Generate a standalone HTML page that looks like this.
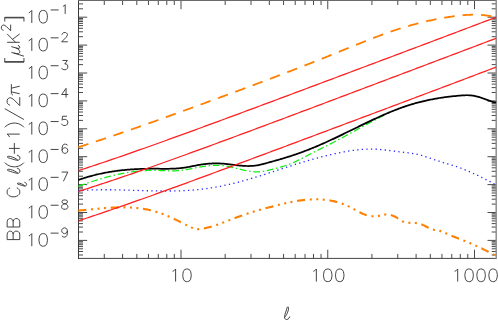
<!DOCTYPE html>
<html><head><meta charset="utf-8"><title>BB power spectrum</title>
<style>
html,body{margin:0;padding:0;background:#fff;}
body{width:498px;height:320px;overflow:hidden;font-family:"Liberation Sans",sans-serif;}
svg{display:block;}
</style></head><body>
<svg width="498" height="320" viewBox="0 0 498 320">
<rect x="0" y="0" width="498" height="320" fill="#ffffff"/>
<path d="M104.27 258.40 v-4.50 M104.27 0.50 v4.50 M122.60 258.40 v-4.50 M122.60 0.50 v4.50 M136.82 258.40 v-4.50 M136.82 0.50 v4.50 M148.44 258.40 v-4.50 M148.44 0.50 v4.50 M158.27 258.40 v-4.50 M158.27 0.50 v4.50 M166.78 258.40 v-4.50 M166.78 0.50 v4.50 M174.29 258.40 v-4.50 M174.29 0.50 v4.50 M181.00 258.40 v-8.70 M181.00 0.50 v8.70 M225.18 258.40 v-4.50 M225.18 0.50 v4.50 M251.02 258.40 v-4.50 M251.02 0.50 v4.50 M269.35 258.40 v-4.50 M269.35 0.50 v4.50 M283.57 258.40 v-4.50 M283.57 0.50 v4.50 M295.19 258.40 v-4.50 M295.19 0.50 v4.50 M305.02 258.40 v-4.50 M305.02 0.50 v4.50 M313.53 258.40 v-4.50 M313.53 0.50 v4.50 M321.04 258.40 v-4.50 M321.04 0.50 v4.50 M327.75 258.40 v-8.70 M327.75 0.50 v8.70 M371.93 258.40 v-4.50 M371.93 0.50 v4.50 M397.77 258.40 v-4.50 M397.77 0.50 v4.50 M416.10 258.40 v-4.50 M416.10 0.50 v4.50 M430.32 258.40 v-4.50 M430.32 0.50 v4.50 M441.94 258.40 v-4.50 M441.94 0.50 v4.50 M451.77 258.40 v-4.50 M451.77 0.50 v4.50 M460.28 258.40 v-4.50 M460.28 0.50 v4.50 M467.79 258.40 v-4.50 M467.79 0.50 v4.50 M474.50 258.40 v-8.70 M474.50 0.50 v8.70 M78.50 254.99 h4.50 M496.20 254.99 h-4.50 M78.50 251.50 h4.50 M496.20 251.50 h-4.50 M78.50 248.80 h4.50 M496.20 248.80 h-4.50 M78.50 246.59 h4.50 M496.20 246.59 h-4.50 M78.50 244.72 h4.50 M496.20 244.72 h-4.50 M78.50 243.10 h4.50 M496.20 243.10 h-4.50 M78.50 241.68 h4.50 M496.20 241.68 h-4.50 M78.50 240.40 h8.70 M496.20 240.40 h-8.70 M78.50 232.00 h4.50 M496.20 232.00 h-4.50 M78.50 227.09 h4.50 M496.20 227.09 h-4.50 M78.50 223.60 h4.50 M496.20 223.60 h-4.50 M78.50 220.90 h4.50 M496.20 220.90 h-4.50 M78.50 218.69 h4.50 M496.20 218.69 h-4.50 M78.50 216.82 h4.50 M496.20 216.82 h-4.50 M78.50 215.20 h4.50 M496.20 215.20 h-4.50 M78.50 213.78 h4.50 M496.20 213.78 h-4.50 M78.50 212.50 h8.70 M496.20 212.50 h-8.70 M78.50 204.10 h4.50 M496.20 204.10 h-4.50 M78.50 199.19 h4.50 M496.20 199.19 h-4.50 M78.50 195.70 h4.50 M496.20 195.70 h-4.50 M78.50 193.00 h4.50 M496.20 193.00 h-4.50 M78.50 190.79 h4.50 M496.20 190.79 h-4.50 M78.50 188.92 h4.50 M496.20 188.92 h-4.50 M78.50 187.30 h4.50 M496.20 187.30 h-4.50 M78.50 185.88 h4.50 M496.20 185.88 h-4.50 M78.50 184.60 h8.70 M496.20 184.60 h-8.70 M78.50 176.20 h4.50 M496.20 176.20 h-4.50 M78.50 171.29 h4.50 M496.20 171.29 h-4.50 M78.50 167.80 h4.50 M496.20 167.80 h-4.50 M78.50 165.10 h4.50 M496.20 165.10 h-4.50 M78.50 162.89 h4.50 M496.20 162.89 h-4.50 M78.50 161.02 h4.50 M496.20 161.02 h-4.50 M78.50 159.40 h4.50 M496.20 159.40 h-4.50 M78.50 157.98 h4.50 M496.20 157.98 h-4.50 M78.50 156.70 h8.70 M496.20 156.70 h-8.70 M78.50 148.30 h4.50 M496.20 148.30 h-4.50 M78.50 143.39 h4.50 M496.20 143.39 h-4.50 M78.50 139.90 h4.50 M496.20 139.90 h-4.50 M78.50 137.20 h4.50 M496.20 137.20 h-4.50 M78.50 134.99 h4.50 M496.20 134.99 h-4.50 M78.50 133.12 h4.50 M496.20 133.12 h-4.50 M78.50 131.50 h4.50 M496.20 131.50 h-4.50 M78.50 130.08 h4.50 M496.20 130.08 h-4.50 M78.50 128.80 h8.70 M496.20 128.80 h-8.70 M78.50 120.40 h4.50 M496.20 120.40 h-4.50 M78.50 115.49 h4.50 M496.20 115.49 h-4.50 M78.50 112.00 h4.50 M496.20 112.00 h-4.50 M78.50 109.30 h4.50 M496.20 109.30 h-4.50 M78.50 107.09 h4.50 M496.20 107.09 h-4.50 M78.50 105.22 h4.50 M496.20 105.22 h-4.50 M78.50 103.60 h4.50 M496.20 103.60 h-4.50 M78.50 102.18 h4.50 M496.20 102.18 h-4.50 M78.50 100.90 h8.70 M496.20 100.90 h-8.70 M78.50 92.50 h4.50 M496.20 92.50 h-4.50 M78.50 87.59 h4.50 M496.20 87.59 h-4.50 M78.50 84.10 h4.50 M496.20 84.10 h-4.50 M78.50 81.40 h4.50 M496.20 81.40 h-4.50 M78.50 79.19 h4.50 M496.20 79.19 h-4.50 M78.50 77.32 h4.50 M496.20 77.32 h-4.50 M78.50 75.70 h4.50 M496.20 75.70 h-4.50 M78.50 74.28 h4.50 M496.20 74.28 h-4.50 M78.50 73.00 h8.70 M496.20 73.00 h-8.70 M78.50 64.60 h4.50 M496.20 64.60 h-4.50 M78.50 59.69 h4.50 M496.20 59.69 h-4.50 M78.50 56.20 h4.50 M496.20 56.20 h-4.50 M78.50 53.50 h4.50 M496.20 53.50 h-4.50 M78.50 51.29 h4.50 M496.20 51.29 h-4.50 M78.50 49.42 h4.50 M496.20 49.42 h-4.50 M78.50 47.80 h4.50 M496.20 47.80 h-4.50 M78.50 46.38 h4.50 M496.20 46.38 h-4.50 M78.50 45.10 h8.70 M496.20 45.10 h-8.70 M78.50 36.70 h4.50 M496.20 36.70 h-4.50 M78.50 31.79 h4.50 M496.20 31.79 h-4.50 M78.50 28.30 h4.50 M496.20 28.30 h-4.50 M78.50 25.60 h4.50 M496.20 25.60 h-4.50 M78.50 23.39 h4.50 M496.20 23.39 h-4.50 M78.50 21.52 h4.50 M496.20 21.52 h-4.50 M78.50 19.90 h4.50 M496.20 19.90 h-4.50 M78.50 18.48 h4.50 M496.20 18.48 h-4.50 M78.50 17.20 h8.70 M496.20 17.20 h-8.70 M78.50 8.80 h4.50 M496.20 8.80 h-4.50 M78.50 3.89 h4.50 M496.20 3.89 h-4.50" fill="none" stroke="#363636" stroke-width="0.9" />
<path d="M78.50 0.00 V258.90" fill="none" stroke="#3a3a3a" stroke-width="1.0" />
<path d="M78.00 258.40 H496.70" fill="none" stroke="#343434" stroke-width="0.92" />
<path d="M78.00 0.50 H496.70" fill="none" stroke="#6a6a6a" stroke-width="1.0" />
<path d="M496.20 0.00 V258.90" fill="none" stroke="#8e8e8e" stroke-width="1.5" />
<path d="M78.30 190.73 L79.34 190.65 L80.39 190.57 L81.43 190.49 L82.47 190.42 L83.51 190.35 L84.56 190.29 L85.60 190.23 L86.64 190.17 L87.69 190.12 L88.73 190.07 L89.77 190.03 L90.81 189.99 L91.86 189.95 L92.90 189.91 L93.94 189.88 L94.99 189.86 L96.03 189.83 L97.07 189.81 L98.11 189.79 L99.16 189.77 L100.20 189.76 L101.24 189.75 L102.29 189.74 L103.33 189.73 L104.37 189.73 L105.41 189.73 L106.46 189.73 L107.50 189.73 L108.54 189.74 L109.59 189.75 L110.63 189.76 L111.67 189.77 L112.71 189.78 L113.76 189.80 L114.80 189.81 L115.84 189.83 L116.89 189.85 L117.93 189.87 L118.97 189.90 L120.01 189.92 L121.06 189.95 L122.10 189.97 L123.14 190.00 L124.19 190.03 L125.23 190.06 L126.27 190.09 L127.31 190.12 L128.36 190.15 L129.40 190.18 L130.44 190.21 L131.49 190.25 L132.53 190.28 L133.57 190.31 L134.61 190.35 L135.66 190.38 L136.70 190.41 L137.74 190.45 L138.79 190.48 L139.83 190.51 L140.87 190.55 L141.91 190.58 L142.96 190.61 L144.00 190.64 L145.04 190.67 L146.09 190.70 L147.13 190.73 L148.17 190.76 L149.21 190.79 L150.26 190.82 L151.30 190.84 L152.34 190.87 L153.39 190.89 L154.43 190.91 L155.47 190.93 L156.51 190.95 L157.56 190.97 L158.60 190.98 L159.64 191.00 L160.69 191.01 L161.73 191.02 L162.77 191.03 L163.81 191.03 L164.86 191.04 L165.90 191.04 L166.94 191.04 L167.99 191.03 L169.03 191.03 L170.07 191.02 L171.11 191.01 L172.16 191.00 L173.20 190.98 L174.24 190.96 L175.29 190.94 L176.33 190.92 L177.37 190.89 L178.41 190.86 L179.46 190.82 L180.50 190.79 L181.54 190.74 L182.59 190.70 L183.63 190.65 L184.67 190.60 L185.71 190.54 L186.76 190.49 L187.80 190.42 L188.84 190.36 L189.89 190.29 L190.93 190.21 L191.97 190.13 L193.01 190.05 L194.06 189.96 L195.10 189.87 L196.14 189.77 L197.19 189.67 L198.23 189.56 L199.27 189.45 L200.31 189.34 L201.36 189.22 L202.40 189.09 L203.44 188.96 L204.49 188.83 L205.53 188.69 L206.57 188.55 L207.61 188.40 L208.66 188.25 L209.70 188.09 L210.74 187.93 L211.79 187.77 L212.83 187.60 L213.87 187.43 L214.91 187.25 L215.96 187.07 L217.00 186.88 L218.04 186.69 L219.09 186.49 L220.13 186.29 L221.17 186.09 L222.21 185.88 L223.26 185.67 L224.30 185.45 L225.34 185.23 L226.39 185.01 L227.43 184.78 L228.47 184.55 L229.51 184.31 L230.56 184.07 L231.60 183.83 L232.64 183.58 L233.69 183.33 L234.73 183.07 L235.77 182.81 L236.81 182.55 L237.86 182.28 L238.90 182.01 L239.94 181.74 L240.99 181.46 L242.03 181.17 L243.07 180.89 L244.11 180.60 L245.16 180.31 L246.20 180.01 L247.24 179.71 L248.29 179.41 L249.33 179.11 L250.37 178.80 L251.41 178.49 L252.46 178.18 L253.50 177.86 L254.54 177.55 L255.59 177.23 L256.63 176.91 L257.67 176.58 L258.71 176.26 L259.76 175.93 L260.80 175.60 L261.84 175.27 L262.89 174.94 L263.93 174.61 L264.97 174.28 L266.01 173.94 L267.06 173.60 L268.10 173.27 L269.14 172.93 L270.19 172.59 L271.23 172.25 L272.27 171.91 L273.31 171.57 L274.36 171.23 L275.40 170.88 L276.44 170.54 L277.49 170.20 L278.53 169.86 L279.57 169.52 L280.61 169.18 L281.66 168.83 L282.70 168.49 L283.74 168.15 L284.79 167.82 L285.83 167.48 L286.87 167.14 L287.91 166.80 L288.96 166.47 L290.00 166.13 L291.04 165.80 L292.09 165.47 L293.13 165.14 L294.17 164.81 L295.21 164.48 L296.26 164.15 L297.30 163.83 L298.34 163.51 L299.39 163.19 L300.43 162.87 L301.47 162.56 L302.51 162.24 L303.56 161.93 L304.60 161.62 L305.64 161.31 L306.69 161.01 L307.73 160.70 L308.77 160.40 L309.81 160.11 L310.86 159.81 L311.90 159.52 L312.94 159.22 L313.99 158.93 L315.03 158.65 L316.07 158.36 L317.11 158.08 L318.16 157.81 L319.20 157.53 L320.24 157.26 L321.29 156.99 L322.33 156.72 L323.37 156.45 L324.41 156.19 L325.46 155.93 L326.50 155.68 L327.54 155.42 L328.59 155.17 L329.63 154.93 L330.67 154.68 L331.71 154.44 L332.76 154.20 L333.80 153.97 L334.84 153.74 L335.89 153.51 L336.93 153.29 L337.97 153.07 L339.01 152.85 L340.06 152.64 L341.10 152.43 L342.14 152.23 L343.19 152.03 L344.23 151.83 L345.27 151.64 L346.31 151.46 L347.36 151.28 L348.40 151.11 L349.44 150.94 L350.49 150.78 L351.53 150.62 L352.57 150.48 L353.61 150.33 L354.66 150.20 L355.70 150.07 L356.74 149.95 L357.79 149.83 L358.83 149.73 L359.87 149.63 L360.91 149.54 L361.96 149.46 L363.00 149.38 L364.04 149.31 L365.09 149.26 L366.13 149.21 L367.17 149.17 L368.21 149.14 L369.26 149.12 L370.30 149.11 L371.34 149.11 L372.39 149.12 L373.43 149.13 L374.47 149.16 L375.51 149.20 L376.56 149.25 L377.60 149.32 L378.64 149.39 L379.69 149.47 L380.73 149.56 L381.77 149.65 L382.81 149.76 L383.86 149.87 L384.90 149.98 L385.94 150.10 L386.99 150.23 L388.03 150.36 L389.07 150.49 L390.11 150.62 L391.16 150.76 L392.20 150.89 L393.24 151.03 L394.29 151.16 L395.33 151.30 L396.37 151.43 L397.41 151.56 L398.46 151.69 L399.50 151.81 L400.54 151.93 L401.59 152.05 L402.63 152.16 L403.67 152.28 L404.71 152.40 L405.76 152.52 L406.80 152.64 L407.84 152.77 L408.89 152.91 L409.93 153.05 L410.97 153.20 L412.01 153.36 L413.06 153.53 L414.10 153.72 L415.14 153.91 L416.19 154.13 L417.23 154.36 L418.27 154.60 L419.31 154.86 L420.36 155.13 L421.40 155.42 L422.44 155.72 L423.49 156.03 L424.53 156.35 L425.57 156.68 L426.61 157.02 L427.66 157.36 L428.70 157.71 L429.74 158.06 L430.79 158.42 L431.83 158.78 L432.87 159.14 L433.91 159.49 L434.96 159.85 L436.00 160.20 L437.04 160.55 L438.09 160.90 L439.13 161.24 L440.17 161.57 L441.21 161.89 L442.26 162.21 L443.30 162.53 L444.34 162.85 L445.39 163.16 L446.43 163.47 L447.47 163.78 L448.51 164.09 L449.56 164.41 L450.60 164.72 L451.64 165.04 L452.69 165.37 L453.73 165.70 L454.77 166.04 L455.81 166.38 L456.86 166.74 L457.90 167.10 L458.94 167.48 L459.99 167.86 L461.03 168.25 L462.07 168.65 L463.11 169.05 L464.16 169.47 L465.20 169.89 L466.24 170.32 L467.29 170.75 L468.33 171.20 L469.37 171.65 L470.41 172.10 L471.46 172.56 L472.50 173.03 L473.54 173.51 L474.59 173.99 L475.63 174.47 L476.67 174.96 L477.71 175.46 L478.76 175.96 L479.80 176.46 L480.84 176.97 L481.89 177.48 L482.93 178.00 L483.97 178.52 L485.01 179.04 L486.06 179.57 L487.10 180.10 L488.14 180.63 L489.19 181.16 L490.23 181.70 L491.27 182.24 L492.31 182.78 L493.36 183.32 L494.40 183.87" fill="none" stroke="#2828ff" stroke-width="1.3" stroke-dasharray="1.3 3.29" stroke-dashoffset="0.4"/>
<path d="M78.30 210.59 L79.35 210.49 L80.39 210.40 L81.44 210.30 L82.48 210.20 L83.53 210.10 L84.57 210.00 L85.62 209.90 L86.66 209.80 L87.71 209.70 L88.76 209.59 L89.80 209.49 L90.85 209.39 L91.89 209.28 L92.94 209.18 L93.98 209.08 L95.03 208.98 L96.08 208.88 L97.12 208.78 L98.17 208.68 L99.21 208.59 L100.26 208.49 L101.30 208.40 L102.35 208.31 L103.39 208.23 L104.44 208.14 L105.49 208.06 L106.53 207.98 L107.58 207.91 L108.62 207.84 L109.67 207.77 L110.71 207.71 L111.76 207.65 L112.81 207.59 L113.85 207.54 L114.90 207.50 L115.94 207.46 L116.99 207.42 L118.03 207.39 L119.08 207.37 L120.12 207.35 L121.17 207.34 L122.22 207.33 L123.26 207.33 L124.31 207.34 L125.35 207.35 L126.40 207.37 L127.44 207.40 L128.49 207.43 L129.54 207.48 L130.58 207.53 L131.63 207.59 L132.67 207.65 L133.72 207.73 L134.76 207.81 L135.81 207.90 L136.85 208.01 L137.90 208.12 L138.95 208.24 L139.99 208.37 L141.04 208.51 L142.08 208.66 L143.13 208.82 L144.17 208.99 L145.22 209.17 L146.26 209.36 L147.31 209.57 L148.36 209.78 L149.40 210.01 L150.45 210.25 L151.49 210.50 L152.54 210.76 L153.58 211.03 L154.63 211.32 L155.68 211.62 L156.72 211.93 L157.77 212.26 L158.81 212.60 L159.86 212.95 L160.90 213.31 L161.95 213.69 L162.99 214.09 L164.04 214.49 L165.09 214.91 L166.13 215.34 L167.18 215.78 L168.22 216.23 L169.27 216.69 L170.31 217.15 L171.36 217.63 L172.41 218.11 L173.45 218.60 L174.50 219.10 L175.54 219.61 L176.59 220.12 L177.63 220.63 L178.68 221.15 L179.72 221.67 L180.77 222.20 L181.82 222.72 L182.86 223.25 L183.91 223.78 L184.95 224.32 L186.00 224.85 L187.04 225.38 L188.09 225.90 L189.14 226.41 L190.18 226.90 L191.23 227.36 L192.27 227.78 L193.32 228.16 L194.36 228.49 L195.41 228.76 L196.45 228.97 L197.50 229.10 L198.55 229.16 L199.59 229.14 L200.64 229.05 L201.68 228.92 L202.73 228.74 L203.77 228.53 L204.82 228.31 L205.86 228.07 L206.91 227.82 L207.96 227.55 L209.00 227.27 L210.05 226.98 L211.09 226.68 L212.14 226.37 L213.18 226.05 L214.23 225.71 L215.28 225.37 L216.32 225.02 L217.37 224.67 L218.41 224.30 L219.46 223.93 L220.50 223.55 L221.55 223.17 L222.59 222.78 L223.64 222.39 L224.69 222.00 L225.73 221.60 L226.78 221.20 L227.82 220.80 L228.87 220.39 L229.91 219.99 L230.96 219.58 L232.01 219.18 L233.05 218.78 L234.10 218.38 L235.14 217.98 L236.19 217.58 L237.23 217.19 L238.28 216.80 L239.32 216.42 L240.37 216.04 L241.42 215.67 L242.46 215.30 L243.51 214.94 L244.55 214.59 L245.60 214.24 L246.64 213.89 L247.69 213.55 L248.74 213.21 L249.78 212.88 L250.83 212.55 L251.87 212.23 L252.92 211.91 L253.96 211.60 L255.01 211.28 L256.05 210.98 L257.10 210.67 L258.15 210.37 L259.19 210.07 L260.24 209.77 L261.28 209.48 L262.33 209.19 L263.37 208.90 L264.42 208.61 L265.46 208.33 L266.51 208.04 L267.56 207.76 L268.60 207.48 L269.65 207.20 L270.69 206.93 L271.74 206.65 L272.78 206.37 L273.83 206.10 L274.88 205.83 L275.92 205.56 L276.97 205.29 L278.01 205.03 L279.06 204.76 L280.10 204.51 L281.15 204.25 L282.19 204.00 L283.24 203.75 L284.29 203.51 L285.33 203.27 L286.38 203.03 L287.42 202.80 L288.47 202.58 L289.51 202.36 L290.56 202.14 L291.61 201.94 L292.65 201.73 L293.70 201.54 L294.74 201.35 L295.79 201.17 L296.83 200.99 L297.88 200.82 L298.92 200.66 L299.97 200.51 L301.02 200.36 L302.06 200.23 L303.11 200.10 L304.15 199.98 L305.20 199.87 L306.24 199.76 L307.29 199.67 L308.34 199.59 L309.38 199.52 L310.43 199.45 L311.47 199.40 L312.52 199.36 L313.56 199.33 L314.61 199.31 L315.65 199.30 L316.70 199.31 L317.75 199.32 L318.79 199.35 L319.84 199.39 L320.88 199.44 L321.93 199.51 L322.97 199.59 L324.02 199.68 L325.06 199.78 L326.11 199.90 L327.16 200.04 L328.20 200.18 L329.25 200.35 L330.29 200.52 L331.34 200.71 L332.38 200.92 L333.43 201.14 L334.48 201.38 L335.52 201.64 L336.57 201.91 L337.61 202.20 L338.66 202.51 L339.70 202.83 L340.75 203.17 L341.79 203.53 L342.84 203.91 L343.89 204.31 L344.93 204.73 L345.98 205.16 L347.02 205.62 L348.07 206.10 L349.11 206.60 L350.16 207.11 L351.21 207.65 L352.25 208.21 L353.30 208.77 L354.34 209.35 L355.39 209.93 L356.43 210.50 L357.48 211.07 L358.52 211.64 L359.57 212.18 L360.62 212.71 L361.66 213.22 L362.71 213.70 L363.75 214.15 L364.80 214.56 L365.84 214.93 L366.89 215.26 L367.94 215.54 L368.98 215.78 L370.03 215.98 L371.07 216.12 L372.12 216.23 L373.16 216.28 L374.21 216.30 L375.25 216.26 L376.30 216.18 L377.35 216.05 L378.39 215.88 L379.44 215.67 L380.48 215.43 L381.53 215.19 L382.57 214.96 L383.62 214.75 L384.66 214.60 L385.71 214.51 L386.76 214.49 L387.80 214.54 L388.85 214.66 L389.89 214.85 L390.94 215.10 L391.98 215.42 L393.03 215.81 L394.08 216.26 L395.12 216.77 L396.17 217.34 L397.21 217.98 L398.26 218.67 L399.30 219.37 L400.35 220.07 L401.39 220.71 L402.44 221.28 L403.49 221.73 L404.53 222.09 L405.58 222.37 L406.62 222.57 L407.67 222.72 L408.71 222.81 L409.76 222.87 L410.81 222.90 L411.85 222.91 L412.90 222.93 L413.94 222.95 L414.99 222.99 L416.03 223.07 L417.08 223.18 L418.12 223.35 L419.17 223.58 L420.22 223.87 L421.26 224.24 L422.31 224.67 L423.35 225.15 L424.40 225.66 L425.44 226.20 L426.49 226.75 L427.54 227.30 L428.58 227.83 L429.63 228.33 L430.67 228.79 L431.72 229.19 L432.76 229.52 L433.81 229.78 L434.85 229.96 L435.90 230.11 L436.95 230.25 L437.99 230.41 L439.04 230.61 L440.08 230.88 L441.13 231.23 L442.17 231.64 L443.22 232.10 L444.26 232.57 L445.31 233.05 L446.36 233.52 L447.40 233.99 L448.45 234.44 L449.49 234.88 L450.54 235.32 L451.58 235.75 L452.63 236.18 L453.68 236.60 L454.72 237.02 L455.77 237.43 L456.81 237.84 L457.86 238.25 L458.90 238.66 L459.95 239.07 L460.99 239.48 L462.04 239.89 L463.09 240.31 L464.13 240.73 L465.18 241.15 L466.22 241.58 L467.27 242.01 L468.31 242.44 L469.36 242.88 L470.41 243.33 L471.45 243.78 L472.50 244.23 L473.54 244.69 L474.59 245.15 L475.63 245.62 L476.68 246.09 L477.72 246.57 L478.77 247.06 L479.82 247.55 L480.86 248.05 L481.91 248.55 L482.95 249.06 L484.00 249.57 L485.04 250.09 L486.09 250.62 L487.14 251.16 L488.18 251.70 L489.23 252.24 L490.27 252.80 L491.32 253.36 L492.36 253.93 L493.41 254.51 L494.45 255.09 L495.50 255.68" fill="none" stroke="#ff8000" stroke-width="2.1" stroke-dasharray="8.05 4.73 2.05 4.43 2.05 4.43 2.05 4.66"/>
<path d="M78.30 147.19 L79.35 146.86 L80.39 146.52 L81.44 146.19 L82.49 145.85 L83.53 145.52 L84.58 145.18 L85.63 144.84 L86.67 144.51 L87.72 144.17 L88.77 143.83 L89.82 143.49 L90.86 143.15 L91.91 142.80 L92.96 142.46 L94.00 142.12 L95.05 141.78 L96.10 141.43 L97.14 141.09 L98.19 140.74 L99.24 140.39 L100.28 140.05 L101.33 139.70 L102.38 139.35 L103.42 139.00 L104.47 138.65 L105.52 138.30 L106.57 137.95 L107.61 137.60 L108.66 137.25 L109.71 136.89 L110.75 136.54 L111.80 136.19 L112.85 135.83 L113.89 135.48 L114.94 135.12 L115.99 134.76 L117.03 134.41 L118.08 134.05 L119.13 133.69 L120.17 133.33 L121.22 132.97 L122.27 132.62 L123.32 132.26 L124.36 131.89 L125.41 131.53 L126.46 131.17 L127.50 130.81 L128.55 130.45 L129.60 130.08 L130.64 129.72 L131.69 129.36 L132.74 128.99 L133.78 128.63 L134.83 128.26 L135.88 127.89 L136.92 127.53 L137.97 127.16 L139.02 126.79 L140.07 126.43 L141.11 126.06 L142.16 125.69 L143.21 125.32 L144.25 124.95 L145.30 124.58 L146.35 124.21 L147.39 123.84 L148.44 123.47 L149.49 123.10 L150.53 122.72 L151.58 122.35 L152.63 121.98 L153.67 121.61 L154.72 121.23 L155.77 120.86 L156.82 120.48 L157.86 120.11 L158.91 119.73 L159.96 119.36 L161.00 118.98 L162.05 118.61 L163.10 118.23 L164.14 117.85 L165.19 117.48 L166.24 117.10 L167.28 116.72 L168.33 116.35 L169.38 115.97 L170.42 115.59 L171.47 115.21 L172.52 114.83 L173.56 114.45 L174.61 114.07 L175.66 113.69 L176.71 113.31 L177.75 112.93 L178.80 112.55 L179.85 112.17 L180.89 111.79 L181.94 111.41 L182.99 111.03 L184.03 110.65 L185.08 110.27 L186.13 109.89 L187.17 109.50 L188.22 109.12 L189.27 108.74 L190.31 108.36 L191.36 107.97 L192.41 107.59 L193.46 107.21 L194.50 106.83 L195.55 106.44 L196.60 106.06 L197.64 105.67 L198.69 105.29 L199.74 104.91 L200.78 104.52 L201.83 104.14 L202.88 103.76 L203.92 103.37 L204.97 102.99 L206.02 102.60 L207.06 102.22 L208.11 101.83 L209.16 101.45 L210.21 101.06 L211.25 100.68 L212.30 100.29 L213.35 99.91 L214.39 99.52 L215.44 99.14 L216.49 98.75 L217.53 98.37 L218.58 97.98 L219.63 97.60 L220.67 97.21 L221.72 96.83 L222.77 96.44 L223.81 96.05 L224.86 95.67 L225.91 95.28 L226.96 94.90 L228.00 94.51 L229.05 94.12 L230.10 93.74 L231.14 93.35 L232.19 92.96 L233.24 92.58 L234.28 92.19 L235.33 91.80 L236.38 91.41 L237.42 91.03 L238.47 90.64 L239.52 90.25 L240.56 89.86 L241.61 89.47 L242.66 89.08 L243.71 88.69 L244.75 88.31 L245.80 87.92 L246.85 87.53 L247.89 87.14 L248.94 86.75 L249.99 86.36 L251.03 85.97 L252.08 85.57 L253.13 85.18 L254.17 84.79 L255.22 84.40 L256.27 84.01 L257.31 83.62 L258.36 83.22 L259.41 82.83 L260.45 82.44 L261.50 82.04 L262.55 81.65 L263.60 81.26 L264.64 80.86 L265.69 80.47 L266.74 80.07 L267.78 79.68 L268.83 79.28 L269.88 78.89 L270.92 78.49 L271.97 78.09 L273.02 77.70 L274.06 77.30 L275.11 76.90 L276.16 76.51 L277.20 76.11 L278.25 75.71 L279.30 75.31 L280.35 74.91 L281.39 74.51 L282.44 74.11 L283.49 73.71 L284.53 73.31 L285.58 72.91 L286.63 72.51 L287.67 72.10 L288.72 71.70 L289.77 71.30 L290.81 70.89 L291.86 70.49 L292.91 70.09 L293.95 69.68 L295.00 69.28 L296.05 68.87 L297.10 68.47 L298.14 68.06 L299.19 67.65 L300.24 67.24 L301.28 66.84 L302.33 66.43 L303.38 66.02 L304.42 65.61 L305.47 65.20 L306.52 64.79 L307.56 64.38 L308.61 63.97 L309.66 63.56 L310.70 63.14 L311.75 62.73 L312.80 62.32 L313.85 61.90 L314.89 61.49 L315.94 61.07 L316.99 60.66 L318.03 60.24 L319.08 59.83 L320.13 59.41 L321.17 58.99 L322.22 58.57 L323.27 58.15 L324.31 57.73 L325.36 57.31 L326.41 56.89 L327.45 56.47 L328.50 56.05 L329.55 55.63 L330.59 55.20 L331.64 54.78 L332.69 54.36 L333.74 53.93 L334.78 53.51 L335.83 53.08 L336.88 52.66 L337.92 52.23 L338.97 51.80 L340.02 51.38 L341.06 50.95 L342.11 50.52 L343.16 50.10 L344.20 49.67 L345.25 49.24 L346.30 48.82 L347.34 48.39 L348.39 47.96 L349.44 47.54 L350.49 47.11 L351.53 46.69 L352.58 46.27 L353.63 45.84 L354.67 45.42 L355.72 45.00 L356.77 44.57 L357.81 44.15 L358.86 43.73 L359.91 43.31 L360.95 42.89 L362.00 42.48 L363.05 42.06 L364.09 41.64 L365.14 41.23 L366.19 40.82 L367.24 40.41 L368.28 39.99 L369.33 39.59 L370.38 39.18 L371.42 38.77 L372.47 38.37 L373.52 37.96 L374.56 37.56 L375.61 37.16 L376.66 36.77 L377.70 36.37 L378.75 35.98 L379.80 35.59 L380.84 35.20 L381.89 34.81 L382.94 34.42 L383.99 34.04 L385.03 33.66 L386.08 33.29 L387.13 32.91 L388.17 32.54 L389.22 32.17 L390.27 31.80 L391.31 31.44 L392.36 31.08 L393.41 30.72 L394.45 30.37 L395.50 30.02 L396.55 29.67 L397.59 29.33 L398.64 28.99 L399.69 28.65 L400.74 28.32 L401.78 27.99 L402.83 27.66 L403.88 27.34 L404.92 27.02 L405.97 26.71 L407.02 26.40 L408.06 26.09 L409.11 25.78 L410.16 25.49 L411.20 25.19 L412.25 24.90 L413.30 24.61 L414.34 24.32 L415.39 24.04 L416.44 23.77 L417.48 23.49 L418.53 23.22 L419.58 22.96 L420.63 22.69 L421.67 22.44 L422.72 22.18 L423.77 21.93 L424.81 21.68 L425.86 21.44 L426.91 21.20 L427.95 20.96 L429.00 20.73 L430.05 20.50 L431.09 20.27 L432.14 20.05 L433.19 19.83 L434.23 19.62 L435.28 19.41 L436.33 19.20 L437.38 19.00 L438.42 18.80 L439.47 18.60 L440.52 18.41 L441.56 18.22 L442.61 18.03 L443.66 17.85 L444.70 17.67 L445.75 17.49 L446.80 17.32 L447.84 17.15 L448.89 16.99 L449.94 16.83 L450.98 16.67 L452.03 16.52 L453.08 16.37 L454.13 16.22 L455.17 16.08 L456.22 15.95 L457.27 15.82 L458.31 15.69 L459.36 15.57 L460.41 15.46 L461.45 15.36 L462.50 15.26 L463.55 15.17 L464.59 15.08 L465.64 15.01 L466.69 14.94 L467.73 14.88 L468.78 14.82 L469.83 14.78 L470.88 14.75 L471.92 14.72 L472.97 14.71 L474.02 14.70 L475.06 14.70 L476.11 14.72 L477.16 14.75 L478.20 14.78 L479.25 14.83 L480.30 14.89 L481.34 14.96 L482.39 15.05 L483.44 15.14 L484.48 15.25 L485.53 15.38 L486.58 15.51 L487.63 15.66 L488.67 15.82 L489.72 16.00 L490.77 16.19 L491.81 16.40 L492.86 16.62 L493.91 16.86 L494.95 17.11 L496.00 17.38" fill="none" stroke="#ff8000" stroke-width="1.8" stroke-dasharray="10.6 7.9"/>
<path d="M78.30 186.29 L79.07 186.01 L79.83 185.73 L80.60 185.45 L81.36 185.18 L82.13 184.90 L82.90 184.63 L83.66 184.36 L84.43 184.09 L85.20 183.83 L85.96 183.56 L86.73 183.30 L87.49 183.04 L88.26 182.78 L89.03 182.52 L89.79 182.26 L90.56 182.01 L91.32 181.76 L92.09 181.51 L92.86 181.26 L93.62 181.01 L94.39 180.77 L95.16 180.52 L95.92 180.28 L96.69 180.05 L97.45 179.81 L98.22 179.58 L98.99 179.34 L99.75 179.11 L100.52 178.89 L101.28 178.66 L102.05 178.44 L102.82 178.22 L103.58 178.00 L104.35 177.79 L105.12 177.57 L105.88 177.36 L106.65 177.16 L107.41 176.95 L108.18 176.75 L108.95 176.55 L109.71 176.35 L110.48 176.15 L111.25 175.96 L112.01 175.77 L112.78 175.59 L113.54 175.40 L114.31 175.22 L115.08 175.04 L115.84 174.87 L116.61 174.69 L117.37 174.52 L118.14 174.36 L118.91 174.19 L119.67 174.03 L120.44 173.87 L121.21 173.72 L121.97 173.57 L122.74 173.42 L123.50 173.27 L124.27 173.13 L125.04 172.99 L125.80 172.85 L126.57 172.72 L127.33 172.59 L128.10 172.47 L128.87 172.34 L129.63 172.22 L130.40 172.11 L131.17 171.99 L131.93 171.89 L132.70 171.78 L133.46 171.68 L134.23 171.58 L135.00 171.48 L135.76 171.39 L136.53 171.30 L137.29 171.22 L138.06 171.14 L138.83 171.06 L139.59 170.99 L140.36 170.92 L141.13 170.85 L141.89 170.79 L142.66 170.74 L143.42 170.68 L144.19 170.63 L144.96 170.59 L145.72 170.54 L146.49 170.51 L147.25 170.47 L148.02 170.44 L148.79 170.42 L149.55 170.39 L150.32 170.38 L151.09 170.36 L151.85 170.35 L152.62 170.35 L153.38 170.35 L154.15 170.35 L154.92 170.36 L155.68 170.37 L156.45 170.39 L157.22 170.41 L157.98 170.43 L158.75 170.45 L159.51 170.48 L160.28 170.51 L161.05 170.53 L161.81 170.56 L162.58 170.59 L163.34 170.62 L164.11 170.65 L164.88 170.68 L165.64 170.71 L166.41 170.74 L167.18 170.76 L167.94 170.78 L168.71 170.80 L169.47 170.81 L170.24 170.83 L171.01 170.83 L171.77 170.84 L172.54 170.83 L173.30 170.83 L174.07 170.81 L174.84 170.79 L175.60 170.77 L176.37 170.74 L177.14 170.70 L177.90 170.65 L178.67 170.59 L179.43 170.53 L180.20 170.45 L180.97 170.37 L181.73 170.28 L182.50 170.19 L183.26 170.09 L184.03 169.98 L184.80 169.86 L185.56 169.75 L186.33 169.62 L187.10 169.49 L187.86 169.36 L188.63 169.22 L189.39 169.08 L190.16 168.94 L190.93 168.80 L191.69 168.65 L192.46 168.50 L193.22 168.36 L193.99 168.21 L194.76 168.06 L195.52 167.91 L196.29 167.76 L197.06 167.61 L197.82 167.47 L198.59 167.32 L199.35 167.18 L200.12 167.04 L200.89 166.91 L201.65 166.78 L202.42 166.65 L203.18 166.52 L203.95 166.40 L204.72 166.29 L205.48 166.17 L206.25 166.07 L207.02 165.97 L207.78 165.87 L208.55 165.78 L209.31 165.70 L210.08 165.62 L210.85 165.55 L211.61 165.49 L212.38 165.44 L213.15 165.39 L213.91 165.35 L214.68 165.32 L215.44 165.30 L216.21 165.29 L216.98 165.29 L217.74 165.30 L218.51 165.31 L219.27 165.34 L220.04 165.38 L220.81 165.43 L221.57 165.49 L222.34 165.56 L223.11 165.65 L223.87 165.74 L224.64 165.85 L225.40 165.96 L226.17 166.09 L226.94 166.22 L227.70 166.36 L228.47 166.51 L229.23 166.66 L230.00 166.82 L230.77 166.99 L231.53 167.16 L232.30 167.34 L233.07 167.52 L233.83 167.70 L234.60 167.89 L235.36 168.08 L236.13 168.27 L236.90 168.46 L237.66 168.65 L238.43 168.84 L239.19 169.03 L239.96 169.22 L240.73 169.40 L241.49 169.59 L242.26 169.77 L243.03 169.95 L243.79 170.12 L244.56 170.29 L245.32 170.45 L246.09 170.61 L246.86 170.76 L247.62 170.90 L248.39 171.04 L249.15 171.16 L249.92 171.28 L250.69 171.39 L251.45 171.49 L252.22 171.58 L252.99 171.65 L253.75 171.72 L254.52 171.77 L255.28 171.81 L256.05 171.84 L256.82 171.85 L257.58 171.85 L258.35 171.83 L259.12 171.80 L259.88 171.76 L260.65 171.69 L261.41 171.61 L262.18 171.52 L262.95 171.40 L263.71 171.27 L264.48 171.13 L265.24 170.98 L266.01 170.81 L266.78 170.64 L267.54 170.46 L268.31 170.27 L269.08 170.08 L269.84 169.89 L270.61 169.70 L271.37 169.51 L272.14 169.32 L272.91 169.14 L273.67 168.95 L274.44 168.75 L275.20 168.56 L275.97 168.37 L276.74 168.17 L277.50 167.97 L278.27 167.77 L279.04 167.56 L279.80 167.35 L280.57 167.14 L281.33 166.92 L282.10 166.70 L282.87 166.47 L283.63 166.23 L284.40 165.99 L285.16 165.75 L285.93 165.49 L286.70 165.23 L287.46 164.96 L288.23 164.68 L289.00 164.39 L289.76 164.10 L290.53 163.79 L291.29 163.48 L292.06 163.15 L292.83 162.82 L293.59 162.48 L294.36 162.14 L295.12 161.78 L295.89 161.42 L296.66 161.05 L297.42 160.68 L298.19 160.30 L298.96 159.92 L299.72 159.53 L300.49 159.14 L301.25 158.75 L302.02 158.35 L302.79 157.95 L303.55 157.55 L304.32 157.15 L305.08 156.75 L305.85 156.34 L306.62 155.94 L307.38 155.53 L308.15 155.13 L308.92 154.72 L309.68 154.32 L310.45 153.92 L311.21 153.53 L311.98 153.13 L312.75 152.74 L313.51 152.35 L314.28 151.95 L315.05 151.57 L315.81 151.18 L316.58 150.79 L317.34 150.41 L318.11 150.02 L318.88 149.64 L319.64 149.25 L320.41 148.87 L321.17 148.49 L321.94 148.11 L322.71 147.72 L323.47 147.34 L324.24 146.96 L325.01 146.57 L325.77 146.19 L326.54 145.80 L327.30 145.42 L328.07 145.03 L328.84 144.64 L329.60 144.25 L330.37 143.86 L331.13 143.47 L331.90 143.08 L332.67 142.68 L333.43 142.28 L334.20 141.88 L334.97 141.49 L335.73 141.08 L336.50 140.68 L337.26 140.28 L338.03 139.88 L338.80 139.47 L339.56 139.06 L340.33 138.66 L341.09 138.25 L341.86 137.84 L342.63 137.43 L343.39 137.02 L344.16 136.61 L344.93 136.19 L345.69 135.78 L346.46 135.37 L347.22 134.95 L347.99 134.54 L348.76 134.12 L349.52 133.71 L350.29 133.29 L351.05 132.87 L351.82 132.46 L352.59 132.04 L353.35 131.62 L354.12 131.20 L354.89 130.78 L355.65 130.37 L356.42 129.95 L357.18 129.53 L357.95 129.11 L358.72 128.69 L359.48 128.28 L360.25 127.86 L361.02 127.44 L361.78 127.02 L362.55 126.61 L363.31 126.19 L364.08 125.77 L364.85 125.36 L365.61 124.94 L366.38 124.52 L367.14 124.11 L367.91 123.70 L368.68 123.28 L369.44 122.87 L370.21 122.46 L370.98 122.05 L371.74 121.64 L372.51 121.23 L373.27 120.82 L374.04 120.41 L374.81 120.00 L375.57 119.60 L376.34 119.19 L377.10 118.79 L377.87 118.38 L378.64 117.98 L379.40 117.58 L380.17 117.18 L380.94 116.79 L381.70 116.39 L382.47 116.00 L383.23 115.60 L384.00 115.21" fill="none" stroke="#10ee10" stroke-width="1.25" stroke-dasharray="6.8 2.7 1.5 2.7"/>
<path d="M78.30 180.01 L79.35 179.64 L80.39 179.28 L81.44 178.93 L82.49 178.58 L83.54 178.24 L84.58 177.91 L85.63 177.59 L86.68 177.27 L87.73 176.96 L88.77 176.65 L89.82 176.36 L90.87 176.07 L91.92 175.79 L92.96 175.51 L94.01 175.24 L95.06 174.98 L96.11 174.72 L97.15 174.47 L98.20 174.23 L99.25 173.99 L100.29 173.76 L101.34 173.53 L102.39 173.31 L103.44 173.10 L104.48 172.90 L105.53 172.69 L106.58 172.50 L107.63 172.31 L108.67 172.13 L109.72 171.95 L110.77 171.78 L111.82 171.61 L112.86 171.45 L113.91 171.29 L114.96 171.14 L116.01 171.00 L117.05 170.86 L118.10 170.72 L119.15 170.59 L120.19 170.47 L121.24 170.35 L122.29 170.23 L123.34 170.12 L124.38 170.02 L125.43 169.91 L126.48 169.82 L127.53 169.73 L128.57 169.64 L129.62 169.56 L130.67 169.48 L131.72 169.40 L132.76 169.33 L133.81 169.27 L134.86 169.20 L135.91 169.15 L136.95 169.09 L138.00 169.04 L139.05 169.00 L140.09 168.95 L141.14 168.91 L142.19 168.88 L143.24 168.85 L144.28 168.82 L145.33 168.79 L146.38 168.77 L147.43 168.75 L148.47 168.74 L149.52 168.73 L150.57 168.72 L151.62 168.71 L152.66 168.71 L153.71 168.71 L154.76 168.71 L155.81 168.72 L156.85 168.72 L157.90 168.73 L158.95 168.74 L159.99 168.75 L161.04 168.76 L162.09 168.77 L163.14 168.78 L164.18 168.78 L165.23 168.78 L166.28 168.78 L167.33 168.78 L168.37 168.77 L169.42 168.75 L170.47 168.73 L171.52 168.71 L172.56 168.67 L173.61 168.63 L174.66 168.59 L175.71 168.53 L176.75 168.46 L177.80 168.39 L178.85 168.30 L179.89 168.21 L180.94 168.10 L181.99 167.98 L183.04 167.85 L184.08 167.70 L185.13 167.55 L186.18 167.38 L187.23 167.19 L188.27 167.00 L189.32 166.81 L190.37 166.60 L191.42 166.40 L192.46 166.19 L193.51 165.98 L194.56 165.77 L195.61 165.56 L196.65 165.36 L197.70 165.16 L198.75 164.97 L199.79 164.79 L200.84 164.61 L201.89 164.45 L202.94 164.31 L203.98 164.17 L205.03 164.04 L206.08 163.93 L207.13 163.82 L208.17 163.73 L209.22 163.65 L210.27 163.58 L211.32 163.53 L212.36 163.48 L213.41 163.44 L214.46 163.42 L215.51 163.41 L216.55 163.41 L217.60 163.42 L218.65 163.44 L219.69 163.47 L220.74 163.52 L221.79 163.58 L222.84 163.65 L223.88 163.72 L224.93 163.82 L225.98 163.92 L227.03 164.03 L228.07 164.15 L229.12 164.27 L230.17 164.40 L231.22 164.53 L232.26 164.66 L233.31 164.80 L234.36 164.93 L235.41 165.06 L236.45 165.19 L237.50 165.31 L238.55 165.43 L239.59 165.54 L240.64 165.64 L241.69 165.73 L242.74 165.81 L243.78 165.88 L244.83 165.93 L245.88 165.98 L246.93 166.00 L247.97 166.02 L249.02 166.01 L250.07 165.99 L251.12 165.95 L252.16 165.89 L253.21 165.81 L254.26 165.71 L255.31 165.58 L256.35 165.44 L257.40 165.27 L258.45 165.08 L259.49 164.87 L260.54 164.64 L261.59 164.40 L262.64 164.14 L263.68 163.88 L264.73 163.60 L265.78 163.32 L266.83 163.03 L267.87 162.74 L268.92 162.45 L269.97 162.16 L271.02 161.87 L272.06 161.57 L273.11 161.28 L274.16 160.98 L275.21 160.69 L276.25 160.39 L277.30 160.09 L278.35 159.79 L279.39 159.48 L280.44 159.18 L281.49 158.87 L282.54 158.56 L283.58 158.24 L284.63 157.93 L285.68 157.61 L286.73 157.28 L287.77 156.96 L288.82 156.63 L289.87 156.30 L290.92 155.96 L291.96 155.62 L293.01 155.28 L294.06 154.93 L295.11 154.57 L296.15 154.22 L297.20 153.86 L298.25 153.49 L299.29 153.12 L300.34 152.74 L301.39 152.36 L302.44 151.98 L303.48 151.59 L304.53 151.19 L305.58 150.79 L306.63 150.39 L307.67 149.98 L308.72 149.57 L309.77 149.15 L310.82 148.73 L311.86 148.31 L312.91 147.88 L313.96 147.45 L315.01 147.01 L316.05 146.57 L317.10 146.13 L318.15 145.68 L319.19 145.23 L320.24 144.78 L321.29 144.32 L322.34 143.86 L323.38 143.40 L324.43 142.93 L325.48 142.46 L326.53 141.99 L327.57 141.51 L328.62 141.03 L329.67 140.55 L330.72 140.07 L331.76 139.58 L332.81 139.09 L333.86 138.60 L334.91 138.10 L335.95 137.61 L337.00 137.11 L338.05 136.61 L339.09 136.11 L340.14 135.60 L341.19 135.10 L342.24 134.59 L343.28 134.09 L344.33 133.58 L345.38 133.07 L346.43 132.56 L347.47 132.05 L348.52 131.53 L349.57 131.02 L350.62 130.51 L351.66 130.00 L352.71 129.48 L353.76 128.97 L354.81 128.46 L355.85 127.94 L356.90 127.43 L357.95 126.92 L358.99 126.41 L360.04 125.90 L361.09 125.39 L362.14 124.88 L363.18 124.37 L364.23 123.87 L365.28 123.36 L366.33 122.86 L367.37 122.36 L368.42 121.86 L369.47 121.36 L370.52 120.86 L371.56 120.37 L372.61 119.88 L373.66 119.39 L374.71 118.90 L375.75 118.42 L376.80 117.94 L377.85 117.46 L378.89 116.98 L379.94 116.51 L380.99 116.04 L382.04 115.58 L383.08 115.11 L384.13 114.66 L385.18 114.20 L386.23 113.75 L387.27 113.30 L388.32 112.86 L389.37 112.42 L390.42 111.99 L391.46 111.56 L392.51 111.13 L393.56 110.71 L394.61 110.30 L395.65 109.89 L396.70 109.48 L397.75 109.08 L398.79 108.69 L399.84 108.30 L400.89 107.92 L401.94 107.54 L402.98 107.17 L404.03 106.80 L405.08 106.44 L406.13 106.09 L407.17 105.74 L408.22 105.40 L409.27 105.07 L410.32 104.74 L411.36 104.42 L412.41 104.11 L413.46 103.80 L414.51 103.50 L415.55 103.20 L416.60 102.92 L417.65 102.63 L418.69 102.36 L419.74 102.09 L420.79 101.82 L421.84 101.56 L422.88 101.31 L423.93 101.06 L424.98 100.82 L426.03 100.59 L427.07 100.36 L428.12 100.13 L429.17 99.91 L430.22 99.70 L431.26 99.49 L432.31 99.29 L433.36 99.09 L434.41 98.90 L435.45 98.71 L436.50 98.53 L437.55 98.35 L438.59 98.18 L439.64 98.01 L440.69 97.85 L441.74 97.69 L442.78 97.54 L443.83 97.39 L444.88 97.24 L445.93 97.10 L446.97 96.97 L448.02 96.84 L449.07 96.71 L450.12 96.58 L451.16 96.46 L452.21 96.35 L453.26 96.23 L454.31 96.12 L455.35 96.02 L456.40 95.91 L457.45 95.81 L458.49 95.72 L459.54 95.62 L460.59 95.53 L461.64 95.45 L462.68 95.38 L463.73 95.33 L464.78 95.28 L465.83 95.25 L466.87 95.24 L467.92 95.25 L468.97 95.29 L470.02 95.34 L471.06 95.43 L472.11 95.54 L473.16 95.68 L474.21 95.85 L475.25 96.06 L476.30 96.30 L477.35 96.56 L478.39 96.85 L479.44 97.17 L480.49 97.51 L481.54 97.86 L482.58 98.23 L483.63 98.62 L484.68 99.01 L485.73 99.41 L486.77 99.80 L487.82 100.19 L488.87 100.56 L489.92 100.92 L490.96 101.27 L492.01 101.58 L493.06 101.86 L494.11 102.11 L495.15 102.33 L496.20 102.49" fill="none" stroke="#000" stroke-width="1.75" />
<path d="M78.50 170.60 L80.60 169.92 L82.70 169.24 L84.80 168.55 L86.90 167.86 L88.99 167.17 L91.09 166.48 L93.19 165.78 L95.29 165.08 L97.39 164.38 L99.49 163.68 L101.59 162.98 L103.69 162.27 L105.79 161.56 L107.89 160.85 L109.98 160.13 L112.08 159.42 L114.18 158.70 L116.28 157.98 L118.38 157.26 L120.48 156.54 L122.58 155.81 L124.68 155.08 L126.78 154.36 L128.88 153.62 L130.97 152.89 L133.07 152.16 L135.17 151.42 L137.27 150.69 L139.37 149.95 L141.47 149.21 L143.57 148.47 L145.67 147.72 L147.77 146.98 L149.87 146.23 L151.96 145.48 L154.06 144.74 L156.16 143.99 L158.26 143.24 L160.36 142.48 L162.46 141.73 L164.56 140.98 L166.66 140.22 L168.76 139.46 L170.86 138.71 L172.95 137.95 L175.05 137.19 L177.15 136.43 L179.25 135.67 L181.35 134.90 L183.45 134.14 L185.55 133.38 L187.65 132.61 L189.75 131.85 L191.85 131.08 L193.94 130.31 L196.04 129.54 L198.14 128.77 L200.24 128.01 L202.34 127.24 L204.44 126.46 L206.54 125.69 L208.64 124.92 L210.74 124.15 L212.84 123.38 L214.93 122.60 L217.03 121.83 L219.13 121.05 L221.23 120.28 L223.33 119.50 L225.43 118.73 L227.53 117.95 L229.63 117.18 L231.73 116.40 L233.83 115.62 L235.92 114.84 L238.02 114.07 L240.12 113.29 L242.22 112.51 L244.32 111.73 L246.42 110.95 L248.52 110.17 L250.62 109.39 L252.72 108.61 L254.82 107.83 L256.91 107.05 L259.01 106.27 L261.11 105.48 L263.21 104.70 L265.31 103.92 L267.41 103.14 L269.51 102.36 L271.61 101.57 L273.71 100.79 L275.81 100.01 L277.90 99.22 L280.00 98.44 L282.10 97.66 L284.20 96.87 L286.30 96.09 L288.40 95.31 L290.50 94.52 L292.60 93.74 L294.70 92.95 L296.80 92.17 L298.89 91.38 L300.99 90.60 L303.09 89.81 L305.19 89.03 L307.29 88.24 L309.39 87.46 L311.49 86.67 L313.59 85.89 L315.69 85.10 L317.79 84.32 L319.88 83.53 L321.98 82.74 L324.08 81.96 L326.18 81.17 L328.28 80.39 L330.38 79.60 L332.48 78.81 L334.58 78.03 L336.68 77.24 L338.78 76.45 L340.87 75.67 L342.97 74.88 L345.07 74.09 L347.17 73.31 L349.27 72.52 L351.37 71.73 L353.47 70.94 L355.57 70.16 L357.67 69.37 L359.77 68.58 L361.86 67.79 L363.96 67.01 L366.06 66.22 L368.16 65.43 L370.26 64.64 L372.36 63.86 L374.46 63.07 L376.56 62.28 L378.66 61.49 L380.76 60.70 L382.85 59.91 L384.95 59.13 L387.05 58.34 L389.15 57.55 L391.25 56.76 L393.35 55.97 L395.45 55.18 L397.55 54.39 L399.65 53.60 L401.75 52.81 L403.84 52.03 L405.94 51.24 L408.04 50.45 L410.14 49.66 L412.24 48.87 L414.34 48.08 L416.44 47.29 L418.54 46.50 L420.64 45.71 L422.74 44.92 L424.83 44.13 L426.93 43.34 L429.03 42.55 L431.13 41.75 L433.23 40.96 L435.33 40.17 L437.43 39.38 L439.53 38.59 L441.63 37.80 L443.73 37.01 L445.82 36.22 L447.92 35.42 L450.02 34.63 L452.12 33.84 L454.22 33.05 L456.32 32.26 L458.42 31.46 L460.52 30.67 L462.62 29.88 L464.72 29.09 L466.81 28.29 L468.91 27.50 L471.01 26.71 L473.11 25.91 L475.21 25.12 L477.31 24.33 L479.41 23.53 L481.51 22.74 L483.61 21.94 L485.71 21.15 L487.80 20.36 L489.90 19.56 L492.00 18.77 L494.10 17.97 L496.20 17.18" fill="none" stroke="#ff2020" stroke-width="1.25" />
<path d="M78.50 191.40 L80.60 190.74 L82.70 190.07 L84.80 189.40 L86.90 188.73 L88.99 188.06 L91.09 187.38 L93.19 186.70 L95.29 186.02 L97.39 185.34 L99.49 184.65 L101.59 183.96 L103.69 183.27 L105.79 182.57 L107.89 181.87 L109.98 181.17 L112.08 180.47 L114.18 179.77 L116.28 179.06 L118.38 178.35 L120.48 177.64 L122.58 176.93 L124.68 176.21 L126.78 175.50 L128.88 174.78 L130.97 174.05 L133.07 173.33 L135.17 172.61 L137.27 171.88 L139.37 171.15 L141.47 170.42 L143.57 169.69 L145.67 168.95 L147.77 168.22 L149.87 167.48 L151.96 166.74 L154.06 166.00 L156.16 165.26 L158.26 164.51 L160.36 163.77 L162.46 163.02 L164.56 162.28 L166.66 161.53 L168.76 160.78 L170.86 160.02 L172.95 159.27 L175.05 158.52 L177.15 157.76 L179.25 157.01 L181.35 156.25 L183.45 155.49 L185.55 154.73 L187.65 153.97 L189.75 153.21 L191.85 152.45 L193.94 151.68 L196.04 150.92 L198.14 150.15 L200.24 149.39 L202.34 148.62 L204.44 147.85 L206.54 147.08 L208.64 146.31 L210.74 145.54 L212.84 144.77 L214.93 144.00 L217.03 143.23 L219.13 142.46 L221.23 141.68 L223.33 140.91 L225.43 140.13 L227.53 139.36 L229.63 138.58 L231.73 137.80 L233.83 137.03 L235.92 136.25 L238.02 135.47 L240.12 134.69 L242.22 133.91 L244.32 133.13 L246.42 132.35 L248.52 131.57 L250.62 130.79 L252.72 130.01 L254.82 129.23 L256.91 128.45 L259.01 127.67 L261.11 126.88 L263.21 126.10 L265.31 125.32 L267.41 124.53 L269.51 123.75 L271.61 122.96 L273.71 122.18 L275.81 121.39 L277.90 120.61 L280.00 119.82 L282.10 119.04 L284.20 118.25 L286.30 117.46 L288.40 116.68 L290.50 115.89 L292.60 115.10 L294.70 114.32 L296.80 113.53 L298.89 112.74 L300.99 111.95 L303.09 111.16 L305.19 110.38 L307.29 109.59 L309.39 108.80 L311.49 108.01 L313.59 107.22 L315.69 106.43 L317.79 105.64 L319.88 104.85 L321.98 104.06 L324.08 103.27 L326.18 102.48 L328.28 101.69 L330.38 100.90 L332.48 100.11 L334.58 99.32 L336.68 98.53 L338.78 97.74 L340.87 96.95 L342.97 96.16 L345.07 95.37 L347.17 94.58 L349.27 93.78 L351.37 92.99 L353.47 92.20 L355.57 91.41 L357.67 90.62 L359.77 89.83 L361.86 89.04 L363.96 88.24 L366.06 87.45 L368.16 86.66 L370.26 85.87 L372.36 85.08 L374.46 84.28 L376.56 83.49 L378.66 82.70 L380.76 81.91 L382.85 81.11 L384.95 80.32 L387.05 79.53 L389.15 78.74 L391.25 77.94 L393.35 77.15 L395.45 76.36 L397.55 75.57 L399.65 74.77 L401.75 73.98 L403.84 73.19 L405.94 72.39 L408.04 71.60 L410.14 70.81 L412.24 70.02 L414.34 69.22 L416.44 68.43 L418.54 67.64 L420.64 66.84 L422.74 66.05 L424.83 65.26 L426.93 64.46 L429.03 63.67 L431.13 62.88 L433.23 62.08 L435.33 61.29 L437.43 60.50 L439.53 59.70 L441.63 58.91 L443.73 58.12 L445.82 57.32 L447.92 56.53 L450.02 55.74 L452.12 54.94 L454.22 54.15 L456.32 53.36 L458.42 52.56 L460.52 51.77 L462.62 50.98 L464.72 50.18 L466.81 49.39 L468.91 48.59 L471.01 47.80 L473.11 47.01 L475.21 46.21 L477.31 45.42 L479.41 44.63 L481.51 43.83 L483.61 43.04 L485.71 42.24 L487.80 41.45 L489.90 40.66 L492.00 39.86 L494.10 39.07 L496.20 38.28" fill="none" stroke="#ff2020" stroke-width="1.25" />
<path d="M78.50 220.80 L80.60 220.11 L82.70 219.42 L84.80 218.73 L86.90 218.03 L88.99 217.33 L91.09 216.63 L93.19 215.93 L95.29 215.22 L97.39 214.51 L99.49 213.80 L101.59 213.09 L103.69 212.38 L105.79 211.66 L107.89 210.94 L109.98 210.22 L112.08 209.50 L114.18 208.78 L116.28 208.05 L118.38 207.33 L120.48 206.60 L122.58 205.87 L124.68 205.13 L126.78 204.40 L128.88 203.66 L130.97 202.93 L133.07 202.19 L135.17 201.45 L137.27 200.70 L139.37 199.96 L141.47 199.22 L143.57 198.47 L145.67 197.72 L147.77 196.97 L149.87 196.22 L151.96 195.47 L154.06 194.72 L156.16 193.96 L158.26 193.21 L160.36 192.45 L162.46 191.70 L164.56 190.94 L166.66 190.18 L168.76 189.42 L170.86 188.66 L172.95 187.90 L175.05 187.13 L177.15 186.37 L179.25 185.61 L181.35 184.84 L183.45 184.07 L185.55 183.31 L187.65 182.54 L189.75 181.77 L191.85 181.00 L193.94 180.23 L196.04 179.46 L198.14 178.69 L200.24 177.92 L202.34 177.15 L204.44 176.38 L206.54 175.60 L208.64 174.83 L210.74 174.06 L212.84 173.28 L214.93 172.51 L217.03 171.73 L219.13 170.95 L221.23 170.18 L223.33 169.40 L225.43 168.62 L227.53 167.85 L229.63 167.07 L231.73 166.29 L233.83 165.51 L235.92 164.73 L238.02 163.95 L240.12 163.17 L242.22 162.39 L244.32 161.61 L246.42 160.83 L248.52 160.05 L250.62 159.27 L252.72 158.49 L254.82 157.71 L256.91 156.93 L259.01 156.15 L261.11 155.37 L263.21 154.58 L265.31 153.80 L267.41 153.02 L269.51 152.24 L271.61 151.45 L273.71 150.67 L275.81 149.89 L277.90 149.11 L280.00 148.32 L282.10 147.54 L284.20 146.75 L286.30 145.97 L288.40 145.19 L290.50 144.40 L292.60 143.62 L294.70 142.84 L296.80 142.05 L298.89 141.27 L300.99 140.48 L303.09 139.70 L305.19 138.91 L307.29 138.13 L309.39 137.34 L311.49 136.56 L313.59 135.77 L315.69 134.99 L317.79 134.20 L319.88 133.42 L321.98 132.63 L324.08 131.85 L326.18 131.06 L328.28 130.28 L330.38 129.49 L332.48 128.70 L334.58 127.92 L336.68 127.13 L338.78 126.35 L340.87 125.56 L342.97 124.78 L345.07 123.99 L347.17 123.20 L349.27 122.42 L351.37 121.63 L353.47 120.84 L355.57 120.06 L357.67 119.27 L359.77 118.48 L361.86 117.70 L363.96 116.91 L366.06 116.12 L368.16 115.34 L370.26 114.55 L372.36 113.76 L374.46 112.97 L376.56 112.19 L378.66 111.40 L380.76 110.61 L382.85 109.82 L384.95 109.04 L387.05 108.25 L389.15 107.46 L391.25 106.67 L393.35 105.88 L395.45 105.09 L397.55 104.31 L399.65 103.52 L401.75 102.73 L403.84 101.94 L405.94 101.15 L408.04 100.36 L410.14 99.57 L412.24 98.78 L414.34 97.99 L416.44 97.20 L418.54 96.41 L420.64 95.62 L422.74 94.83 L424.83 94.04 L426.93 93.25 L429.03 92.46 L431.13 91.67 L433.23 90.88 L435.33 90.09 L437.43 89.30 L439.53 88.51 L441.63 87.72 L443.73 86.93 L445.82 86.14 L447.92 85.34 L450.02 84.55 L452.12 83.76 L454.22 82.97 L456.32 82.17 L458.42 81.38 L460.52 80.59 L462.62 79.80 L464.72 79.00 L466.81 78.21 L468.91 77.41 L471.01 76.62 L473.11 75.83 L475.21 75.03 L477.31 74.24 L479.41 73.44 L481.51 72.65 L483.61 71.85 L485.71 71.06 L487.80 70.26 L489.90 69.47 L492.00 68.67 L494.10 67.87 L496.20 67.08" fill="none" stroke="#ff2020" stroke-width="1.25" />
<path d="M172.60 271.40 L173.80 270.80 L175.60 269.00 L175.60 281.60 M186.40 269.00 L184.60 269.60 L183.40 271.40 L182.80 274.40 L182.80 276.20 L183.40 279.20 L184.60 281.00 L186.40 281.60 L187.60 281.60 L189.40 281.00 L190.60 279.20 L191.20 276.20 L191.20 274.40 L190.60 271.40 L189.40 269.60 L187.60 269.00 L186.40 269.00 M313.35 271.40 L314.55 270.80 L316.35 269.00 L316.35 281.60 M327.15 269.00 L325.35 269.60 L324.15 271.40 L323.55 274.40 L323.55 276.20 L324.15 279.20 L325.35 281.00 L327.15 281.60 L328.35 281.60 L330.15 281.00 L331.35 279.20 L331.95 276.20 L331.95 274.40 L331.35 271.40 L330.15 269.60 L328.35 269.00 L327.15 269.00 M339.15 269.00 L337.35 269.60 L336.15 271.40 L335.55 274.40 L335.55 276.20 L336.15 279.20 L337.35 281.00 L339.15 281.60 L340.35 281.60 L342.15 281.00 L343.35 279.20 L343.95 276.20 L343.95 274.40 L343.35 271.40 L342.15 269.60 L340.35 269.00 L339.15 269.00 M454.70 271.40 L455.90 270.80 L457.70 269.00 L457.70 281.60 M468.50 269.00 L466.70 269.60 L465.50 271.40 L464.90 274.40 L464.90 276.20 L465.50 279.20 L466.70 281.00 L468.50 281.60 L469.70 281.60 L471.50 281.00 L472.70 279.20 L473.30 276.20 L473.30 274.40 L472.70 271.40 L471.50 269.60 L469.70 269.00 L468.50 269.00 M480.50 269.00 L478.70 269.60 L477.50 271.40 L476.90 274.40 L476.90 276.20 L477.50 279.20 L478.70 281.00 L480.50 281.60 L481.70 281.60 L483.50 281.00 L484.70 279.20 L485.30 276.20 L485.30 274.40 L484.70 271.40 L483.50 269.60 L481.70 269.00 L480.50 269.00 M492.50 269.00 L490.70 269.60 L489.50 271.40 L488.90 274.40 L488.90 276.20 L489.50 279.20 L490.70 281.00 L492.50 281.60 L493.70 281.60 L495.50 281.00 L496.70 279.20 L497.30 276.20 L497.30 274.40 L496.70 271.40 L495.50 269.60 L493.70 269.00 L492.50 269.00 M28.80 12.80 L30.00 12.20 L31.80 10.40 L31.80 23.00 M42.60 10.40 L40.80 11.00 L39.60 12.80 L39.00 15.80 L39.00 17.60 L39.60 20.60 L40.80 22.40 L42.60 23.00 L43.80 23.00 L45.60 22.40 L46.80 20.60 L47.40 17.60 L47.40 15.80 L46.80 12.80 L45.60 11.00 L43.80 10.40 L42.60 10.40 M50.66 9.94 L58.58 9.94 M62.98 6.42 L63.86 5.98 L65.18 4.66 L65.18 13.90 M28.80 40.70 L30.00 40.10 L31.80 38.30 L31.80 50.90 M42.60 38.30 L40.80 38.90 L39.60 40.70 L39.00 43.70 L39.00 45.50 L39.60 48.50 L40.80 50.30 L42.60 50.90 L43.80 50.90 L45.60 50.30 L46.80 48.50 L47.40 45.50 L47.40 43.70 L46.80 40.70 L45.60 38.90 L43.80 38.30 L42.60 38.30 M50.66 37.84 L58.58 37.84 M62.10 34.76 L62.10 34.32 L62.54 33.44 L62.98 33.00 L63.86 32.56 L65.62 32.56 L66.50 33.00 L66.94 33.44 L67.38 34.32 L67.38 35.20 L66.94 36.08 L66.06 37.40 L61.66 41.80 L67.82 41.80 M28.80 68.60 L30.00 68.00 L31.80 66.20 L31.80 78.80 M42.60 66.20 L40.80 66.80 L39.60 68.60 L39.00 71.60 L39.00 73.40 L39.60 76.40 L40.80 78.20 L42.60 78.80 L43.80 78.80 L45.60 78.20 L46.80 76.40 L47.40 73.40 L47.40 71.60 L46.80 68.60 L45.60 66.80 L43.80 66.20 L42.60 66.20 M50.66 65.74 L58.58 65.74 M62.54 60.46 L67.38 60.46 L64.74 63.98 L66.06 63.98 L66.94 64.42 L67.38 64.86 L67.82 66.18 L67.82 67.06 L67.38 68.38 L66.50 69.26 L65.18 69.70 L63.86 69.70 L62.54 69.26 L62.10 68.82 L61.66 67.94 M28.80 96.50 L30.00 95.90 L31.80 94.10 L31.80 106.70 M42.60 94.10 L40.80 94.70 L39.60 96.50 L39.00 99.50 L39.00 101.30 L39.60 104.30 L40.80 106.10 L42.60 106.70 L43.80 106.70 L45.60 106.10 L46.80 104.30 L47.40 101.30 L47.40 99.50 L46.80 96.50 L45.60 94.70 L43.80 94.10 L42.60 94.10 M50.66 93.64 L58.58 93.64 M66.06 88.36 L61.66 94.52 L68.26 94.52 M66.06 88.36 L66.06 97.60 M28.80 124.40 L30.00 123.80 L31.80 122.00 L31.80 134.60 M42.60 122.00 L40.80 122.60 L39.60 124.40 L39.00 127.40 L39.00 129.20 L39.60 132.20 L40.80 134.00 L42.60 134.60 L43.80 134.60 L45.60 134.00 L46.80 132.20 L47.40 129.20 L47.40 127.40 L46.80 124.40 L45.60 122.60 L43.80 122.00 L42.60 122.00 M50.66 121.54 L58.58 121.54 M66.94 116.26 L62.54 116.26 L62.10 120.22 L62.54 119.78 L63.86 119.34 L65.18 119.34 L66.50 119.78 L67.38 120.66 L67.82 121.98 L67.82 122.86 L67.38 124.18 L66.50 125.06 L65.18 125.50 L63.86 125.50 L62.54 125.06 L62.10 124.62 L61.66 123.74 M28.80 152.30 L30.00 151.70 L31.80 149.90 L31.80 162.50 M42.60 149.90 L40.80 150.50 L39.60 152.30 L39.00 155.30 L39.00 157.10 L39.60 160.10 L40.80 161.90 L42.60 162.50 L43.80 162.50 L45.60 161.90 L46.80 160.10 L47.40 157.10 L47.40 155.30 L46.80 152.30 L45.60 150.50 L43.80 149.90 L42.60 149.90 M50.66 149.44 L58.58 149.44 M67.38 145.48 L66.94 144.60 L65.62 144.16 L64.74 144.16 L63.42 144.60 L62.54 145.92 L62.10 148.12 L62.10 150.32 L62.54 152.08 L63.42 152.96 L64.74 153.40 L65.18 153.40 L66.50 152.96 L67.38 152.08 L67.82 150.76 L67.82 150.32 L67.38 149.00 L66.50 148.12 L65.18 147.68 L64.74 147.68 L63.42 148.12 L62.54 149.00 L62.10 150.32 M28.80 180.20 L30.00 179.60 L31.80 177.80 L31.80 190.40 M42.60 177.80 L40.80 178.40 L39.60 180.20 L39.00 183.20 L39.00 185.00 L39.60 188.00 L40.80 189.80 L42.60 190.40 L43.80 190.40 L45.60 189.80 L46.80 188.00 L47.40 185.00 L47.40 183.20 L46.80 180.20 L45.60 178.40 L43.80 177.80 L42.60 177.80 M50.66 177.34 L58.58 177.34 M67.82 172.06 L63.42 181.30 M61.66 172.06 L67.82 172.06 M28.80 208.10 L30.00 207.50 L31.80 205.70 L31.80 218.30 M42.60 205.70 L40.80 206.30 L39.60 208.10 L39.00 211.10 L39.00 212.90 L39.60 215.90 L40.80 217.70 L42.60 218.30 L43.80 218.30 L45.60 217.70 L46.80 215.90 L47.40 212.90 L47.40 211.10 L46.80 208.10 L45.60 206.30 L43.80 205.70 L42.60 205.70 M50.66 205.24 L58.58 205.24 M63.86 199.96 L62.54 200.40 L62.10 201.28 L62.10 202.16 L62.54 203.04 L63.42 203.48 L65.18 203.92 L66.50 204.36 L67.38 205.24 L67.82 206.12 L67.82 207.44 L67.38 208.32 L66.94 208.76 L65.62 209.20 L63.86 209.20 L62.54 208.76 L62.10 208.32 L61.66 207.44 L61.66 206.12 L62.10 205.24 L62.98 204.36 L64.30 203.92 L66.06 203.48 L66.94 203.04 L67.38 202.16 L67.38 201.28 L66.94 200.40 L65.62 199.96 L63.86 199.96 M28.80 236.00 L30.00 235.40 L31.80 233.60 L31.80 246.20 M42.60 233.60 L40.80 234.20 L39.60 236.00 L39.00 239.00 L39.00 240.80 L39.60 243.80 L40.80 245.60 L42.60 246.20 L43.80 246.20 L45.60 245.60 L46.80 243.80 L47.40 240.80 L47.40 239.00 L46.80 236.00 L45.60 234.20 L43.80 233.60 L42.60 233.60 M50.66 233.14 L58.58 233.14 M67.38 230.94 L66.94 232.26 L66.06 233.14 L64.74 233.58 L64.30 233.58 L62.98 233.14 L62.10 232.26 L61.66 230.94 L61.66 230.50 L62.10 229.18 L62.98 228.30 L64.30 227.86 L64.74 227.86 L66.06 228.30 L66.94 229.18 L67.38 230.94 L67.38 233.14 L66.94 235.34 L66.06 236.66 L64.74 237.10 L63.86 237.10 L62.54 236.66 L62.10 235.78 M284.50 317.50 L285.58 316.12 L286.66 314.38 L287.68 312.10 L288.34 310.00 L288.52 308.20 L288.28 307.12 L287.62 306.94 L287.02 307.78 L286.48 309.70 L285.70 312.10 L284.98 314.50 L284.56 316.60 L284.68 318.22 L285.46 319.18 L286.66 319.54 L287.86 319.18 L288.94 318.34 L289.78 316.48 M7.15 239.60 L19.75 239.60 M7.15 239.60 L7.15 234.20 L7.75 232.40 L8.35 231.80 L9.55 231.20 L10.75 231.20 L11.95 231.80 L12.55 232.40 L13.15 234.20 M13.15 239.60 L13.15 234.20 L13.75 232.40 L14.35 231.80 L15.55 231.20 L17.35 231.20 L18.55 231.80 L19.15 232.40 L19.75 234.20 L19.75 239.60 M7.15 227.00 L19.75 227.00 M7.15 227.00 L7.15 221.60 L7.75 219.80 L8.35 219.20 L9.55 218.60 L10.75 218.60 L11.95 219.20 L12.55 219.80 L13.15 221.60 M13.15 227.00 L13.15 221.60 L13.75 219.80 L14.35 219.20 L15.55 218.60 L17.35 218.60 L18.55 219.20 L19.15 219.80 L19.75 221.60 L19.75 227.00 M10.15 187.80 L8.95 188.40 L7.75 189.60 L7.15 190.80 L7.15 193.20 L7.75 194.40 L8.95 195.60 L10.15 196.20 L11.95 196.80 L14.95 196.80 L16.75 196.20 L17.95 195.60 L19.15 194.40 L19.75 193.20 L19.75 190.80 L19.15 189.60 L17.95 188.40 L16.75 187.80 M25.13 186.06 L24.12 185.27 L22.84 184.48 L21.17 183.73 L19.63 183.24 L18.31 183.11 L17.52 183.29 L17.39 183.77 L18.00 184.21 L19.41 184.61 L21.17 185.18 L22.93 185.71 L24.47 186.02 L25.66 185.93 L26.36 185.36 L26.63 184.48 L26.36 183.60 L25.75 182.80 L24.38 182.19 M17.95 173.30 L16.57 172.22 L14.83 171.14 L12.55 170.12 L10.45 169.46 L8.65 169.28 L7.57 169.52 L7.39 170.18 L8.23 170.78 L10.15 171.32 L12.55 172.10 L14.95 172.82 L17.05 173.24 L18.67 173.12 L19.63 172.34 L19.99 171.14 L19.63 169.94 L18.79 168.86 L16.93 168.02 M4.75 162.60 L5.95 163.80 L7.75 165.00 L10.15 166.20 L13.15 166.80 L15.55 166.80 L18.55 166.20 L20.95 165.00 L22.75 163.80 L23.95 162.60 M17.95 160.30 L16.57 159.22 L14.83 158.14 L12.55 157.12 L10.45 156.46 L8.65 156.28 L7.57 156.52 L7.39 157.18 L8.23 157.78 L10.15 158.32 L12.55 159.10 L14.95 159.82 L17.05 160.24 L18.67 160.12 L19.63 159.34 L19.99 158.14 L19.63 156.94 L18.79 155.86 L16.93 155.02 M8.95 148.40 L19.75 148.40 M14.35 153.80 L14.35 143.00 M9.55 137.10 L8.95 135.90 L7.15 134.10 L19.75 134.10 M4.75 127.30 L5.95 126.10 L7.75 124.90 L10.15 123.70 L13.15 123.10 L15.55 123.10 L18.55 123.70 L20.95 124.90 L22.75 126.10 L23.95 127.30 M4.75 108.70 L23.95 119.50 M10.15 105.00 L9.55 105.00 L8.35 104.40 L7.75 103.80 L7.15 102.60 L7.15 100.20 L7.75 99.00 L8.35 98.40 L9.55 97.80 L10.75 97.80 L11.95 98.40 L13.75 99.60 L19.75 105.60 L19.75 97.20 M12.85 95.10 L11.95 94.50 L11.35 93.60 L11.35 84.12 M11.35 91.92 L19.75 93.72 M11.35 88.20 L19.75 86.22 M4.75 62.20 L23.95 62.20 M4.75 61.60 L23.95 61.60 M4.75 62.20 L4.75 58.00 M23.95 62.20 L23.95 58.00 M11.35 52.30 L23.95 56.20 M13.75 53.02 L16.75 53.62 L18.55 53.50 L19.75 52.60 L19.75 51.40 L19.15 50.20 L17.95 49.00 L15.55 47.80 M11.35 46.60 L15.55 47.80 L17.95 48.40 L19.15 48.40 L19.75 47.80 L19.75 47.20 L19.15 46.00 L17.95 45.40 M7.15 42.30 L19.75 42.30 M7.15 33.90 L15.55 42.30 M12.55 39.30 L19.75 33.90 M3.61 30.34 L3.17 30.34 L2.29 29.90 L1.85 29.46 L1.41 28.58 L1.41 26.82 L1.85 25.94 L2.29 25.50 L3.17 25.06 L4.05 25.06 L4.93 25.50 L6.25 26.38 L10.65 30.78 L10.65 24.62 M4.75 17.90 L23.95 17.90 M4.75 17.30 L23.95 17.30 M4.75 21.50 L4.75 17.30 M23.95 21.50 L23.95 17.30" fill="none" stroke="#303030" stroke-width="0.9" stroke-linecap="butt" stroke-linejoin="round"/>
</svg>
</body></html>
